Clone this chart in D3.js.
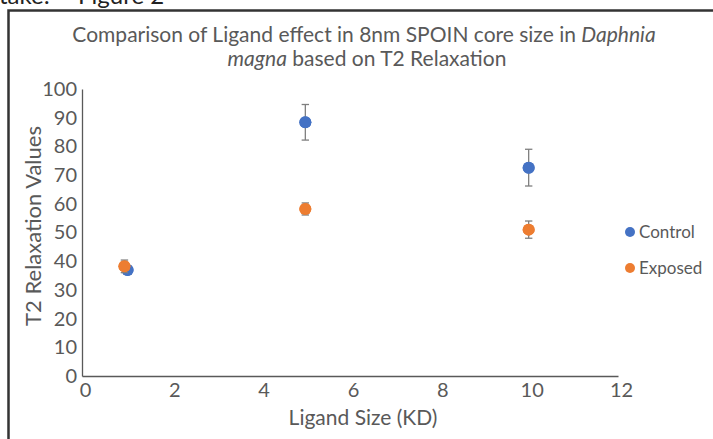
<!DOCTYPE html>
<html>
<head>
<meta charset="utf-8">
<script src="https://cdn.jsdelivr.net/npm/d3@7/dist/d3.min.js"></script>
<style>
  html, body { margin: 0; padding: 0; background: #fff; }
  svg { display: block; }
  text { font-family: Lato, "Open Sans", sans-serif; }
</style>
</head>
<body>
<svg id="chart" width="713" height="439"></svg>
<script>
// ---- data ----
const seriesNames = ["Control", "Exposed"];
const seriesColors = ["#4472C4", "#ED7D31"];
const controlX = [1.02, 5, 10];
const controlY = [36.9, 88.4, 72.6];
const controlErr = [1.5, 6.2, 6.4];
const exposedX = [0.95, 5, 10];
const exposedY = [38.2, 58.2, 51.0];
const exposedErr = [2.2, 2.1, 3.0];
const xTicks = [0, 2, 4, 6, 8, 10, 12];
const yTicks = [0, 10, 20, 30, 40, 50, 60, 70, 80, 90, 100];

const svg = d3.select("#chart");
const x = d3.scaleLinear().domain([0, 12]).range([82, 618]);
const y = d3.scaleLinear().domain([0, 100]).range([376, 89]);
const textCol = "#595959";

// caption above box (cut off at top, as in the reference)
svg.append("text").attr("x", -1).attr("y", 4).attr("font-size", 24)
  .attr("font-family", "Liberation Sans, Arial, sans-serif").attr("fill", "#222").text("take:");
svg.append("text").attr("x", 78).attr("y", 4).attr("font-size", 24)
  .attr("font-family", "Liberation Sans, Arial, sans-serif").attr("fill", "#222").text("Figure 2");

// outer box
svg.append("rect").attr("x", 8.5).attr("y", 10.5).attr("width", 720).attr("height", 450)
  .attr("fill", "none").attr("stroke", "#333").attr("stroke-width", 2.5);

// title
const title = svg.append("text").attr("text-anchor", "middle").attr("fill", textCol).attr("font-size", 21);
title.append("tspan").attr("x", 364).attr("y", 42)
  .text("Comparison of Ligand effect in 8nm SPOIN core size in ")
  .append("tspan").attr("font-style", "italic").text("Daphnia");
const t2 = title.append("tspan").attr("x", 367).attr("y", 66);
t2.append("tspan").attr("font-style", "italic").text("magna");
t2.append("tspan").text(" based on T2 Relaxation");

// axes
const yAxis = d3.axisLeft(y).tickValues(yTicks).tickSize(0).tickPadding(5);
const gy = svg.append("g").attr("transform", `translate(${x(0)},0)`).call(yAxis);
gy.select(".domain").attr("stroke", "#595959").attr("stroke-width", 1.3);
gy.selectAll("text").attr("font-size", 20).attr("fill", textCol).attr("font-family", "Lato, sans-serif");

const xAxis = d3.axisBottom(x).tickValues(xTicks).tickSize(0).tickPadding(7);
const gx = svg.append("g").attr("transform", `translate(0,${y(0)})`).call(xAxis);
gx.select(".domain").attr("stroke", "#595959").attr("stroke-width", 1.3);
gx.selectAll("text").attr("font-size", 20).attr("fill", textCol).attr("font-family", "Lato, sans-serif")
  .attr("dx", 3);

// axis titles
svg.append("text").attr("x", 363).attr("y", 425).attr("text-anchor", "middle")
  .attr("font-size", 21).attr("fill", textCol).text("Ligand Size (KD)");
svg.append("text").attr("transform", "translate(41,226) rotate(-90)").attr("text-anchor", "middle")
  .attr("font-size", 22).attr("fill", textCol).text("T2 Relaxation Values");

// series
const series = [
  { xs: controlX, ys: controlY, es: controlErr },
  { xs: exposedX, ys: exposedY, es: exposedErr }
];
series.forEach((s, i) => {
  const pts = s.xs.map((xv, j) => ({ x: xv, y: s.ys[j], e: s.es[j] }));
  const g = svg.append("g");
  g.selectAll("circle").data(pts).join("circle")
    .attr("cx", d => x(d.x)).attr("cy", d => y(d.y)).attr("r", 6)
    .attr("fill", seriesColors[i]);
  const eb = g.selectAll("g.eb").data(pts).join("g").attr("class", "eb")
    .attr("stroke", "#7f7f7f").attr("stroke-width", 1.3);
  eb.append("line").attr("x1", d => x(d.x)).attr("x2", d => x(d.x))
    .attr("y1", d => y(d.y + d.e)).attr("y2", d => y(d.y - d.e));
  eb.append("line").attr("x1", d => x(d.x) - 3.7).attr("x2", d => x(d.x) + 3.7)
    .attr("y1", d => y(d.y + d.e)).attr("y2", d => y(d.y + d.e));
  eb.append("line").attr("x1", d => x(d.x) - 3.7).attr("x2", d => x(d.x) + 3.7)
    .attr("y1", d => y(d.y - d.e)).attr("y2", d => y(d.y - d.e));
  g.selectAll("circle.top").data(pts).join("circle").attr("class", "top")
    .attr("cx", d => x(d.x)).attr("cy", d => y(d.y)).attr("r", 6)
    .attr("fill", seriesColors[i]);
});

// legend
const lg = svg.append("g");
seriesNames.forEach((n, i) => {
  const yy = 232 + i * 36;
  lg.append("circle").attr("cx", 630).attr("cy", yy).attr("r", 5).attr("fill", seriesColors[i]);
  lg.append("text").attr("x", 639).attr("y", yy).attr("dy", "0.35em")
    .attr("font-size", 17).attr("fill", textCol).text(n);
});
</script>
</body>
</html>
